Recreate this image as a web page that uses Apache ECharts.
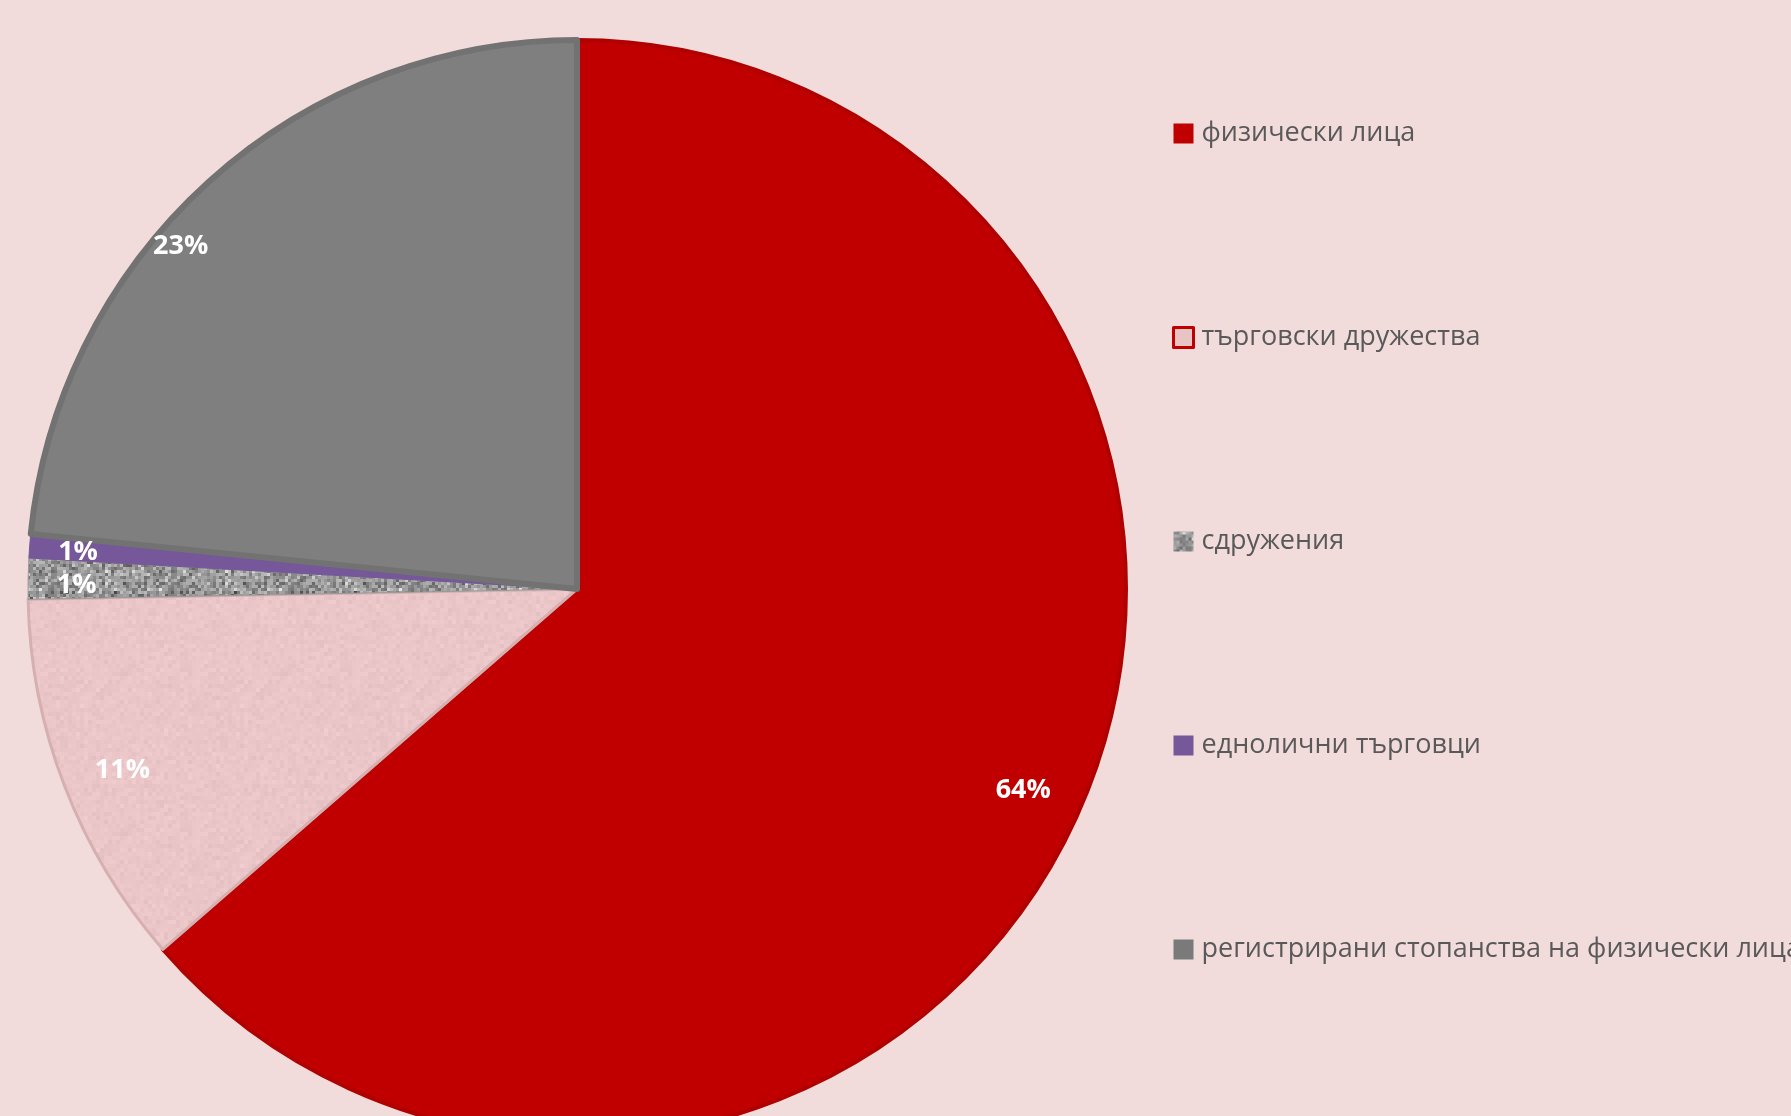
<!DOCTYPE html>
<html>
<head>
<meta charset="utf-8">
<script src="https://cdn.jsdelivr.net/npm/echarts@6/dist/echarts.min.js"></script>
<style>
html,body{margin:0;padding:0;background:#F2DCDB;overflow:hidden;}
#chart{width:1791px;height:1116px;}
</style>
</head>
<body>
<div id="chart"></div>
<script>
var categories = ['физически лица', 'търговски дружества', 'сдружения', 'еднолични търговци', 'регистрирани стопанства на физически лица'];
var values = [63.6, 11.1, 1.2, 0.7, 23.4];

// deterministic hash noise for textures
function hash(x, y, s) {
  var h = (x * 374761393 + y * 668265263 + s * 982451653) | 0;
  h = (h ^ (h >>> 13)) * 1274126177 | 0;
  h = h ^ (h >>> 16);
  return ((h >>> 0) % 1000) / 1000;
}
function makePattern(size, cell, base, amp, seed, tint) {
  var c = document.createElement('canvas');
  c.width = size; c.height = size;
  var ctx = c.getContext('2d');
  for (var y = 0; y < size; y += cell) {
    for (var x = 0; x < size; x += cell) {
      var n = (hash(x, y, seed) + hash(x + 1, y, seed) + hash(x, y + 1, seed)) / 3;
      var v = base + (n - 0.5) * amp;
      var r = Math.max(0, Math.min(255, Math.round(v + tint[0])));
      var g = Math.max(0, Math.min(255, Math.round(v + tint[1])));
      var b = Math.max(0, Math.min(255, Math.round(v + tint[2])));
      ctx.fillStyle = 'rgb(' + r + ',' + g + ',' + b + ')';
      ctx.fillRect(x, y, cell, cell);
    }
  }
  return c;
}
var noiseCanvas = makePattern(120, 3, 150, 170, 7, [0, 0, 0]);
var pinkCanvas = makePattern(160, 4, 198, 16, 3, [36, 0, 2]);

var colors = [
  '#C00000',
  { image: pinkCanvas, repeat: 'repeat' },
  { image: noiseCanvas, repeat: 'repeat' },
  '#75579A',
  '#7F7F7F'
];
var borders = [
  { c: '#B00000', w: 4 },
  { c: '#D6B0B0', w: 3 },
  { c: '#9A9A9A', w: 1 },
  { c: '#75579A', w: 1 },
  { c: '#727272', w: 6 }
];
// per-slice label nudges: horizontal via padding, vertical via a spacer line (px)
var labelPads = [[0, 4, 0, 0], [0, 0, 0, 10], [0, 16, 0, 0], [0, 16, 0, 0], [0, 132, 0, 0]];
var labelVShift = [-3, 4, 6, 2, 23];

var rich = {
  v: { color: '#FFFFFF', fontSize: 27, fontWeight: 'bold', fontFamily: 'Open Sans', lineHeight: 26 }
};
labelVShift.forEach(function (s, i) {
  rich['sp' + i] = { fontSize: 1, lineHeight: Math.max(1, Math.abs(s) * 2) };
});

var mainData = categories.map(function (n, i) {
  return { name: n, value: values[i], itemStyle: { color: colors[i], borderColor: borders[i].c, borderWidth: borders[i].w } };
});
var labelData = categories.map(function (n, i) {
  return { name: n, value: values[i], label: { padding: labelPads[i] } };
});
var legendIconStyles = [
  { color: '#C00000', borderWidth: 0 },
  { color: '#E8C4C4', borderColor: '#C00000', borderWidth: 3 },
  { color: { image: noiseCanvas, repeat: 'repeat' }, borderWidth: 0 },
  { color: '#75579A', borderWidth: 0 },
  { color: '#7A7A7A', borderWidth: 0 }
];

var chart = echarts.init(document.getElementById('chart'));
chart.setOption({
  backgroundColor: '#F2DCDB',
  animation: false,
  legend: {
    orient: 'vertical',
    left: 1167,
    top: 115,
    itemWidth: 20,
    itemHeight: 20,
    itemGap: 177,
    icon: 'rect',
    selectedMode: false,
    textStyle: { color: '#595959', fontSize: 27, fontFamily: 'Open Sans', padding: [0, 0, 0, 3] },
    data: categories.map(function (n, i) { return { name: n, itemStyle: legendIconStyles[i] }; })
  },
  series: [
    {
      type: 'pie',
      center: [577, 589],
      radius: [0, 549],
      startAngle: 90,
      clockwise: true,
      label: { show: false },
      labelLine: { show: false },
      emphasis: { disabled: true },
      data: mainData
    },
    {
      type: 'pie',
      center: [577, 589],
      radius: [430, 549],
      startAngle: 90,
      clockwise: true,
      silent: true,
      avoidLabelOverlap: false,
      minShowLabelAngle: 0,
      labelLayout: { hideOverlap: false },
      itemStyle: { color: 'rgba(0,0,0,0)', borderWidth: 0 },
      label: {
        show: true,
        position: 'inside',
        color: '#FFFFFF',
        fontSize: 27,
        fontWeight: 'bold',
        fontFamily: 'Open Sans',
        rich: rich,
        formatter: function (p) {
          var t = '{v|' + Math.round(p.percent) + '%}';
          var s = labelVShift[p.dataIndex];
          var sp = '{sp' + p.dataIndex + '| }';
          if (s > 0) return sp + '\n' + t;
          if (s < 0) return t + '\n' + sp;
          return t;
        }
      },
      labelLine: { show: false },
      emphasis: { disabled: true },
      data: labelData
    }
  ]
});
</script>
</body>
</html>
